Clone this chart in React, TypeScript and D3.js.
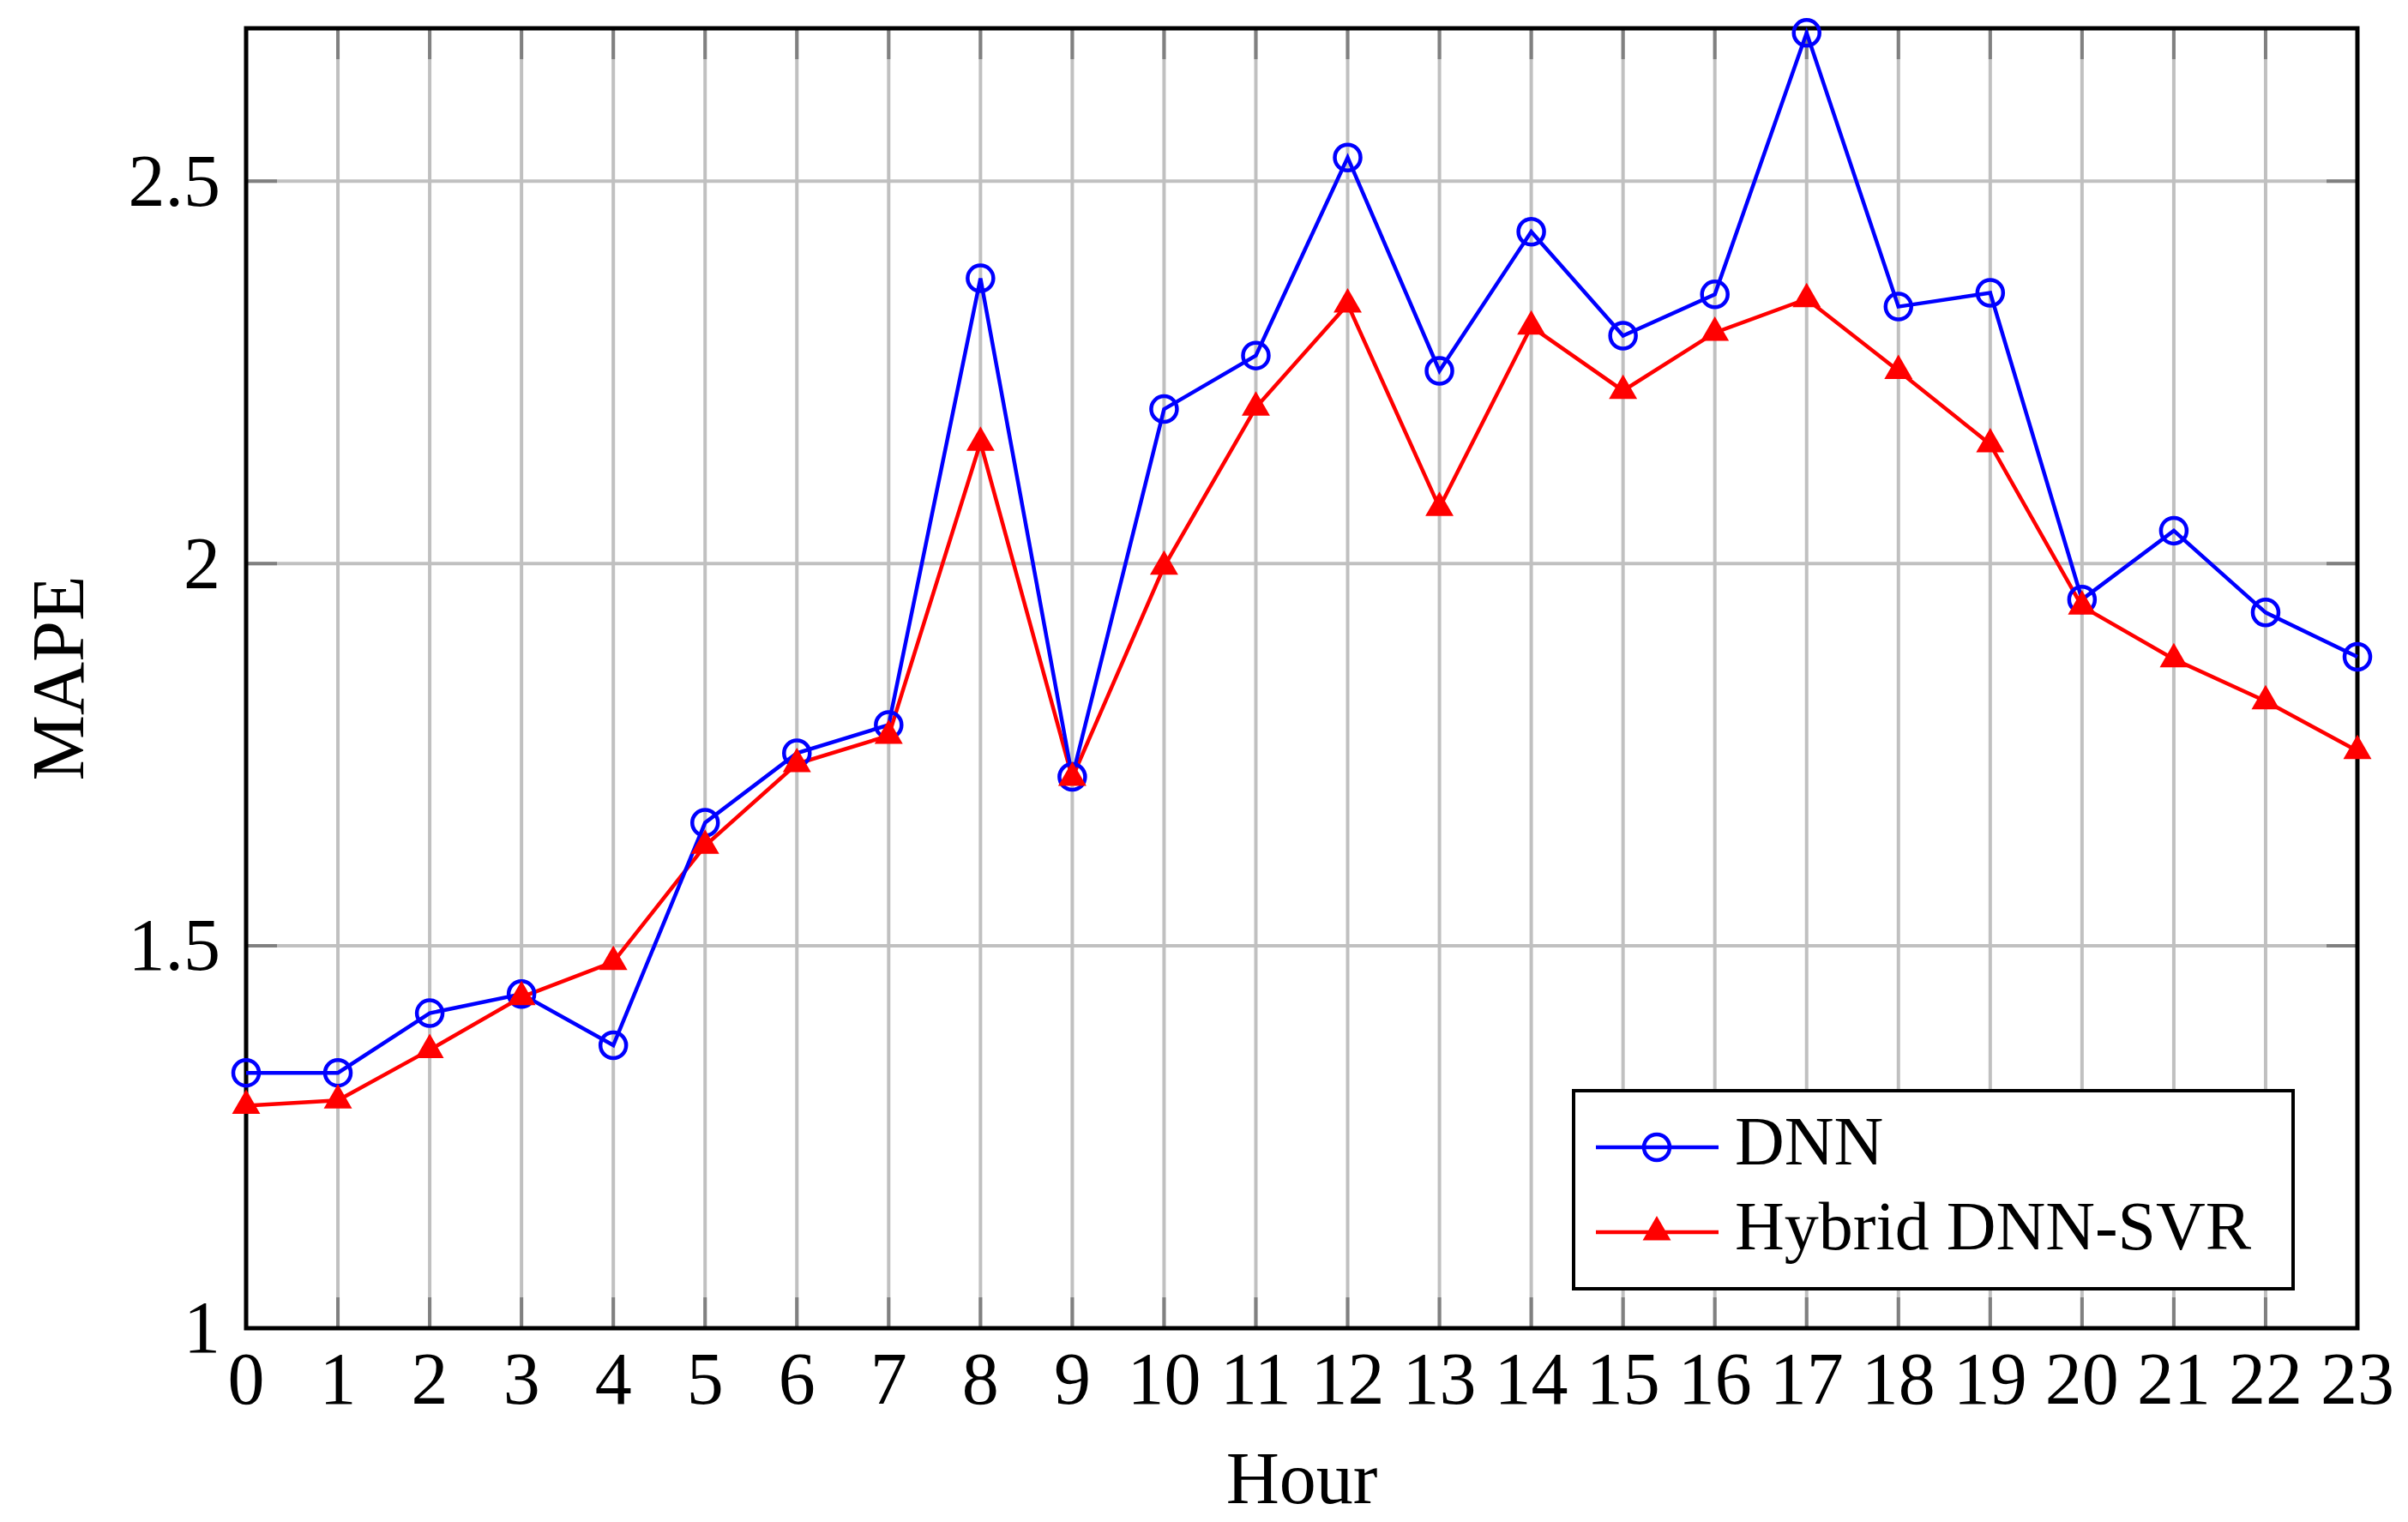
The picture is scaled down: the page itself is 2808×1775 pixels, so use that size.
import React, { useRef, useEffect } from "react";
import * as d3 from "d3";

const hours = d3.range(0, 24);
const dnn = [
  1.334, 1.334, 1.412, 1.437, 1.37, 1.661, 1.752, 1.789, 2.373, 1.721, 2.202, 2.272,
  2.531, 2.252, 2.434, 2.298, 2.352, 2.694, 2.336, 2.354, 1.953, 2.043, 1.936, 1.878,
];
const hybrid = [
  1.291, 1.298, 1.364, 1.433, 1.479, 1.631, 1.738, 1.775, 2.158, 1.72, 1.996, 2.204,
  2.339, 2.073, 2.31, 2.226, 2.302, 2.346, 2.252, 2.156, 1.944, 1.875, 1.82, 1.755,
];
const yTicks = [1, 1.5, 2, 2.5];
const seriesNames = ["DNN", "Hybrid DNN-SVR"];

const W = 2808;
const H = 1775;
const FONT = "'Liberation Serif', 'Times New Roman', serif";

const App: React.FC = () => {
  const svgRef = useRef<SVGSVGElement>(null);

  useEffect(() => {
    document.body.style.margin = "0";
    const svg = d3.select(svgRef.current);
    svg.selectAll("*").remove();

    const margin = { top: 33, right: 59, bottom: 226, left: 287 };
    const cw = W - margin.left - margin.right;
    const ch = H - margin.top - margin.bottom;

    const g = svg.append("g").attr("transform", `translate(${margin.left},${margin.top})`);

    const x = d3.scaleLinear().domain([0, 23]).range([0, cw]);
    const y = d3.scaleLinear().domain([1, 2.7]).range([ch, 0]);

    // grid
    g.selectAll(".vgrid")
      .data(hours)
      .enter()
      .append("line")
      .attr("x1", (d) => x(d))
      .attr("x2", (d) => x(d))
      .attr("y1", 0)
      .attr("y2", ch)
      .attr("stroke", "#c0c0c0")
      .attr("stroke-width", 4);
    g.selectAll(".hgrid")
      .data(yTicks)
      .enter()
      .append("line")
      .attr("x1", 0)
      .attr("x2", cw)
      .attr("y1", (d) => y(d))
      .attr("y2", (d) => y(d))
      .attr("stroke", "#c0c0c0")
      .attr("stroke-width", 4);

    // inward ticks on all four sides
    const tl = 36;
    const tickCol = "#808080";
    [0, ch].forEach((yy) => {
      g.append("g")
        .selectAll("line")
        .data(hours)
        .enter()
        .append("line")
        .attr("x1", (d) => x(d))
        .attr("x2", (d) => x(d))
        .attr("y1", yy)
        .attr("y2", yy === 0 ? tl : ch - tl)
        .attr("stroke", tickCol)
        .attr("stroke-width", 4);
    });
    [0, cw].forEach((xx) => {
      g.append("g")
        .selectAll("line")
        .data(yTicks)
        .enter()
        .append("line")
        .attr("x1", xx)
        .attr("x2", xx === 0 ? tl : cw - tl)
        .attr("y1", (d) => y(d))
        .attr("y2", (d) => y(d))
        .attr("stroke", tickCol)
        .attr("stroke-width", 4);
    });

    // frame
    g.append("rect")
      .attr("x", 0)
      .attr("y", 0)
      .attr("width", cw)
      .attr("height", ch)
      .attr("fill", "none")
      .attr("stroke", "black")
      .attr("stroke-width", 5);

    // tick labels
    g.selectAll(".xl")
      .data(hours)
      .enter()
      .append("text")
      .attr("x", (d) => x(d))
      .attr("y", ch + 88)
      .attr("text-anchor", "middle")
      .attr("font-family", FONT)
      .attr("font-size", 86)
      .text((d) => String(d));
    g.selectAll(".yl")
      .data(yTicks)
      .enter()
      .append("text")
      .attr("x", -30)
      .attr("y", (d) => y(d))
      .attr("dy", "0.33em")
      .attr("text-anchor", "end")
      .attr("font-family", FONT)
      .attr("font-size", 86)
      .text((d) => String(d));

    // axis labels
    g.append("text")
      .attr("x", cw / 2)
      .attr("y", ch + 204)
      .attr("text-anchor", "middle")
      .attr("font-family", FONT)
      .attr("font-size", 86)
      .text("Hour");
    g.append("text")
      .attr("transform", `translate(${97 - margin.left},${ch / 2}) rotate(-90)`)
      .attr("text-anchor", "middle")
      .attr("font-family", FONT)
      .attr("font-size", 86)
      .text("MAPE");

    // series
    const line = d3
      .line<number>()
      .x((_, i) => x(hours[i]))
      .y((d) => y(d));

    const tri = (r: number) =>
      `M0,${-r}L${r * 0.866},${r * 0.5}L${-r * 0.866},${r * 0.5}Z`;

    const drawCircle = (sel: d3.Selection<any, any, any, any>) =>
      sel
        .attr("r", 15)
        .attr("fill", "none")
        .attr("stroke", "blue")
        .attr("stroke-width", 4.5);

    g.append("path")
      .datum(hybrid)
      .attr("d", line)
      .attr("fill", "none")
      .attr("stroke", "red")
      .attr("stroke-width", 4.5);
    g.append("path")
      .datum(dnn)
      .attr("d", line)
      .attr("fill", "none")
      .attr("stroke", "blue")
      .attr("stroke-width", 4.5);

    g.selectAll(".dm")
      .data(dnn)
      .enter()
      .append("circle")
      .attr("cx", (_, i) => x(hours[i]))
      .attr("cy", (d) => y(d))
      .call(drawCircle);

    g.selectAll(".hm")
      .data(hybrid)
      .enter()
      .append("path")
      .attr("transform", (d, i) => `translate(${x(hours[i])},${y(d)})`)
      .attr("d", tri(19))
      .attr("fill", "red");

    // legend
    const lg = svg.append("g");
    lg.append("rect")
      .attr("x", 1835)
      .attr("y", 1272)
      .attr("width", 839)
      .attr("height", 231)
      .attr("fill", "white")
      .attr("stroke", "black")
      .attr("stroke-width", 4);
    const rows = [1338, 1437];
    seriesNames.forEach((name, i) => {
      const yy = rows[i];
      const col = i === 0 ? "blue" : "red";
      lg.append("line")
        .attr("x1", 1861)
        .attr("x2", 2004)
        .attr("y1", yy)
        .attr("y2", yy)
        .attr("stroke", col)
        .attr("stroke-width", 4.5);
      if (i === 0) {
        lg.append("circle").attr("cx", 1932).attr("cy", yy).call(drawCircle);
      } else {
        lg.append("path")
          .attr("transform", `translate(1932,${yy})`)
          .attr("d", tri(19))
          .attr("fill", "red");
      }
      lg.append("text")
        .attr("x", 2023)
        .attr("y", yy + 20)
        .attr("font-family", FONT)
        .attr("font-size", 80)
        .text(name);
    });
  }, []);

  return <svg ref={svgRef} width={W} height={H} style={{ display: "block", background: "white" }} />;
};

export default App;
